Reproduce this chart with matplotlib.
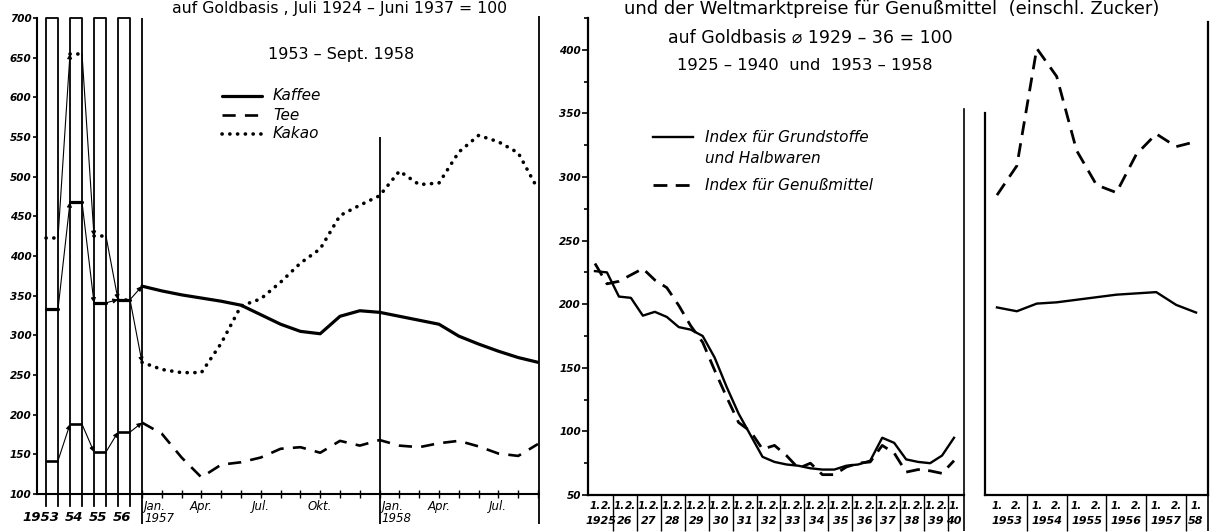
import matplotlib
matplotlib.use('Agg')
import matplotlib.pyplot as plt
from matplotlib.lines import Line2D
import numpy as np

plt.rcParams['font.family'] = ['DejaVu Sans']

# linke Grafik: Jahreswerte 1953-1956 und Monatswerte Jan. 1957 - Sept. 1958
year_labels = ['1953', '54', '55', '56']
kaffee_year = [333, 468, 341, 345]
tee_year = [142, 188, 153, 178]
kakao_year = [423, 655, 425, 345]

month_ticks = [0, 3, 6, 9, 12, 15, 18]
month_labels = ['Jan.\n1957', 'Apr.', 'Jul.', 'Okt.', 'Jan.\n1958', 'Apr.', 'Jul.']
kaffee_month = [362, 356, 351, 347, 343, 338, 326, 314, 305, 302, 324,
                331, 329, 324, 319, 314, 299, 289, 280, 272, 266]
tee_month = [190, 176, 146, 121, 137, 140, 146, 157, 159, 152, 167,
             161, 168, 161, 159, 164, 167, 160, 151, 148, 163]
kakao_month = [266, 257, 253, 253, 290, 337, 346, 367, 391, 409, 451,
               464, 476, 507, 490, 492, 531, 552, 544, 530, 484]

# rechte Grafik: Halbjahreswerte 1925-1940 und 1953-1958
years_a = list(range(1925, 1941))
grund_a = [226, 225, 206, 205, 191, 194, 190, 182, 180, 175, 158, 135, 114, 97, 80, 76,
           74, 73, 71, 70, 70, 73, 74, 77, 95, 91, 78, 76, 75, 81, 95]
genuss_a = [232, 216, 218, 223, 228, 219, 213, 199, 183, 170, 148, 127, 107, 100, 86, 89,
            81, 71, 75, 66, 66, 72, 75, 76, 89, 83, 68, 70, 69, 67, 77]
years_b = list(range(1953, 1959))
grund_b = [197, 194, 200, 201, 203, 205, 207, 208, 209, 199, 193]
genuss_b = [285, 308, 400, 378, 320, 293, 287, 317, 333, 323, 327]

W, H = 1215, 532
fig = plt.figure(figsize=(W / 100, H / 100), dpi=100)


def box(x0, x1, ytop, ybot):
    return [x0 / W, (H - ybot) / H, (x1 - x0) / W, (ybot - ytop) / H]


lab = dict(fontstyle='italic', fontweight='bold', fontsize=7.5)

kaffee_style = dict(color='black', lw=2.3, solid_capstyle='round', solid_joinstyle='round')
tee_style = dict(color='black', lw=1.9, linestyle=(0, (5, 3.5)))
kakao_style = dict(color='black', lw=2.6, linestyle=(0, (0.05, 2.1)), dash_capstyle='round')

# ---------------- linke Grafik ----------------
ax1 = fig.add_axes(box(37, 539, 18, 494))
px_month = 19.8
ax1.set_xlim(-105 / px_month, 397 / px_month)
ax1.set_ylim(100, 700)
ax1.spines['top'].set_visible(False)
ax1.spines['right'].set_visible(False)
ax1.spines['left'].set_linewidth(1.5)
ax1.spines['bottom'].set_linewidth(1.5)
ax1.set_yticks(np.arange(100, 701, 50))
ax1.set_yticklabels([str(v) for v in range(100, 701, 50)], **lab)
ax1.tick_params(axis='y', direction='out', length=3, width=1.2, pad=1)
ax1.set_xticks(np.arange(len(kaffee_month)))
ax1.set_xticklabels([])
ax1.tick_params(axis='x', direction='inout', length=6, width=1)

col_w = 12 / px_month
col_left = [-(8 - 2 * i) * col_w for i in range(len(year_labels))]
col_right = [l + col_w for l in col_left]
for l, r in zip(col_left, col_right):
    ax1.plot([l, l, r, r], [85, 700, 700, 85], color='black', lw=1.3, clip_on=False)
ax1.vlines(0, 62, 700, color='black', lw=1.3, clip_on=False)
ax1.vlines(12, 62, 550, color='black', lw=1.3, clip_on=False)
ax1.vlines(ax1.get_xlim()[1], 62, 702, color='black', lw=1.3, clip_on=False)

months = np.arange(len(kaffee_month))
for yv, mv, st in [(kaffee_year, kaffee_month, kaffee_style),
                   (tee_year, tee_month, tee_style),
                   (kakao_year, kakao_month, kakao_style)]:
    for i in range(len(yv)):
        ax1.plot([col_left[i], col_right[i]], [yv[i], yv[i]], **st)
    starts = list(zip(col_right, yv))
    ends = list(zip(col_left[1:], yv[1:])) + [(months[0], mv[0])]
    for (x0, y0), (x1, y1) in zip(starts, ends):
        ax1.annotate('', xy=(x1, y1), xytext=(x0, y0),
                     arrowprops=dict(arrowstyle='-|>', lw=0.8, color='black',
                                     mutation_scale=7, shrinkA=0, shrinkB=0))
    ax1.plot(months, mv, **st)

xt = ax1.get_xaxis_transform()
for m, t in zip(month_ticks, month_labels):
    ha = 'left' if '\n' in t else 'center'
    ax1.text(m + (0.1 if ha == 'left' else 0), -0.012, t, transform=xt, ha=ha, va='top',
             fontstyle='italic', fontsize=8.5, linespacing=0.9)
for i, t in enumerate(year_labels):
    if i == 0:
        ax1.text(col_right[i] + 0.05, -0.035, t, transform=xt, ha='right', va='top',
                 fontstyle='italic', fontweight='bold', fontsize=9.5)
    else:
        ax1.text((col_left[i] + col_right[i]) / 2 - 0.1, -0.035, t, transform=xt,
                 ha='center', va='top', fontstyle='italic', fontweight='bold', fontsize=9.5)

# Legende links
for yy, st, t in [(96, kaffee_style, 'Kaffee'), (115, tee_style, 'Tee'), (134, kakao_style, 'Kakao')]:
    fig.add_artist(Line2D([222 / W, 262 / W], [1 - yy / H, 1 - yy / H], **st))
    fig.text(273 / W, 1 - yy / H, t, fontstyle='italic', fontsize=11, va='center')

fig.text(339 / W, 1 - 9 / H, 'auf Goldbasis , Juli 1924 – Juni 1937 = 100',
         ha='center', va='center', fontsize=11.3)
fig.text(341 / W, 1 - 54 / H, '1953 – Sept. 1958', ha='center', va='center', fontsize=11.5)

# ---------------- rechte Grafik ----------------
grund_style = dict(color='black', lw=1.7, solid_joinstyle='round')
genuss_style = dict(color='black', lw=2.0, linestyle=(0, (5, 3)))
px_val = 1.276
ytop_val = 50 + 477 / px_val

ax2 = fig.add_axes(box(588, 964, 18, 495))
px_year_a = 23.93
ax2.set_xlim(years_a[0] - 1 / px_year_a, years_a[-1] + 0.5 + 4 / px_year_a)
ax2.set_ylim(50, ytop_val)
ax2.spines['top'].set_visible(False)
ax2.spines['left'].set_linewidth(1.6)
ax2.spines['bottom'].set_linewidth(1.6)
ax2.spines['right'].set_linewidth(1.2)
ax2.spines['right'].set_bounds(50, 50 + 387 / px_val)
ax2.set_yticks(np.arange(50, 401, 50))
ax2.set_yticklabels([str(v) for v in range(50, 401, 50)], **lab)
ax2.set_yticks(np.arange(75, 426, 50), minor=True)
ax2.tick_params(axis='y', which='both', direction='out', width=1.2, pad=1)
ax2.tick_params(axis='y', which='major', length=4)
ax2.tick_params(axis='y', which='minor', length=3)
ax2.set_xticks([])

ax3 = fig.add_axes(box(985, 1208, 18, 495))
px_year_b = 39.8
ax3.set_xlim(years_b[0] - 2 / px_year_b, years_b[-1] + 0.5 + 2 / px_year_b)
ax3.set_ylim(50, ytop_val)
ax3.spines['top'].set_visible(False)
ax3.spines['left'].set_linewidth(1.6)
ax3.spines['bottom'].set_linewidth(1.6)
ax3.spines['right'].set_linewidth(1.6)
ax3.spines['left'].set_bounds(50, 50 + 382 / px_val)
ax3.spines['right'].set_bounds(50, 50 + 473 / px_val)
ax3.set_xticks([])
ax3.set_yticks([])

for ax, yrs, g, n in [(ax2, years_a, grund_a, genuss_a), (ax3, years_b, grund_b, genuss_b)]:
    hx = yrs[0] + 0.25 + 0.5 * np.arange(len(g))
    ax.plot(hx, g, **grund_style)
    ax.plot(hx, n, **genuss_style)
    t = ax.get_xaxis_transform()
    ax.vlines(yrs[1:], -0.075, 0, transform=t, color='black', lw=1, clip_on=False)
    ax.vlines(ax.get_xlim()[1], -0.075, 0, transform=t, color='black', lw=1.2, clip_on=False)
    for j, y in enumerate(yrs):
        last = j == len(yrs) - 1
        ax.text(y + 0.25, -0.012, '1.', transform=t, ha='center', va='top', **lab)
        if not last:
            ax.text(y + 0.75, -0.012, '2.', transform=t, ha='center', va='top', **lab)
        if ax is ax2:
            ylab = str(y) if j == 0 else str(y)[2:]
        else:
            ylab = str(y) if not last else str(y)[2:]
        ax.text(y + (0.25 if last else 0.5), -0.045, ylab, transform=t, ha='center', va='top',
                fontstyle='italic', fontweight='bold', fontsize=8)

# Legende rechts
fig.add_artist(Line2D([653 / W, 693 / W], [1 - 137 / H, 1 - 137 / H], **grund_style))
fig.add_artist(Line2D([653 / W, 693 / W], [1 - 185 / H, 1 - 185 / H], **genuss_style))
fig.text(705 / W, 1 - 137 / H, 'Index für Grundstoffe', fontstyle='italic', fontsize=11, va='center')
fig.text(705 / W, 1 - 158 / H, 'und Halbwaren', fontstyle='italic', fontsize=11, va='center')
fig.text(705 / W, 1 - 185 / H, 'Index für Genußmittel', fontstyle='italic', fontsize=11, va='center')

fig.text(892 / W, 1 - 9 / H, 'und der Weltmarktpreise für Genußmittel  (einschl. Zucker)',
         ha='center', va='center', fontsize=13)
fig.text(810 / W, 1 - 38 / H, 'auf Goldbasis ⌀ 1929 – 36 = 100', ha='center', va='center', fontsize=12.5)
fig.text(805 / W, 1 - 65 / H, '1925 – 1940  und  1953 – 1958', ha='center', va='center', fontsize=11.8)

fig.savefig('out.png', dpi=100)
